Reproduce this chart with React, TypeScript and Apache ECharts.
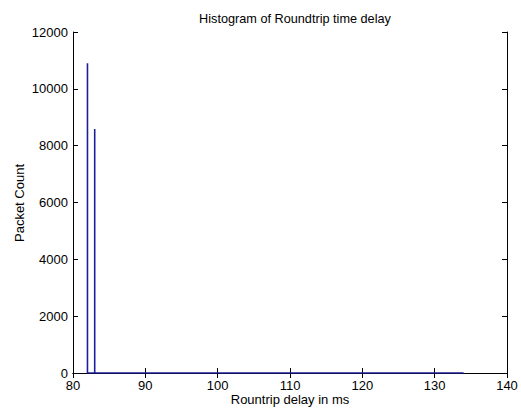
import React, { useEffect, useRef } from "react";
import * as echarts from "echarts";

const xTicks = [80, 90, 100, 110, 120, 130, 140];
const yTicks = [0, 2000, 4000, 6000, 8000, 10000, 12000];
const spikeDelays = [82, 83];
const spikeCounts = [10900, 8590];
const delayRange = [82, 134];

const title = "Histogram of Roundtrip time delay";
const xName = "Rountrip delay in ms";
const yName = "Packet Count";

export default function App() {
  const ref = useRef<HTMLDivElement>(null);
  useEffect(() => {
    if (!ref.current) return;
    const chart = echarts.init(ref.current, undefined, { renderer: "svg" });
    const lineData: [number, number][] = [[delayRange[0], 0]];
    spikeDelays.forEach((d, i) => {
      lineData.push([d, 0], [d, spikeCounts[i]], [d, 0]);
    });
    lineData.push([delayRange[1], 0]);
    const font = "Liberation Sans, Arial, sans-serif";
    const fs = 13;
    const axisLine = { show: true, lineStyle: { color: "#000", width: 1 } };
    const tick = { show: true, inside: true, length: 5, lineStyle: { color: "#000" } };
    const plain = (v: number) => String(v);
    chart.setOption({
      animation: false,
      backgroundColor: "#fff",
      title: {
        text: title,
        left: 290,
        textAlign: "center",
        top: 7,
        textStyle: { fontFamily: font, fontSize: 12.7, fontWeight: "normal", color: "#000" },
      },
      grid: { left: 73, right: 14, top: 32, bottom: 35 },
      xAxis: [
        {
          type: "value",
          min: xTicks[0],
          max: xTicks[xTicks.length - 1],
          interval: 10,
          position: "bottom",
          axisLine,
          axisTick: tick,
          splitLine: { show: false },
          axisLabel: { color: "#000", fontFamily: font, fontSize: fs, margin: 6, formatter: plain },
        },
        {
          type: "value",
          min: xTicks[0],
          max: xTicks[xTicks.length - 1],
          interval: 10,
          position: "top",
          axisLine,
          axisTick: tick,
          splitLine: { show: false },
          axisLabel: { show: false },
        },
      ],
      yAxis: [
        {
          type: "value",
          min: yTicks[0],
          max: yTicks[yTicks.length - 1],
          interval: 2000,
          position: "left",
          axisLine,
          axisTick: tick,
          splitLine: { show: false },
          axisLabel: { color: "#000", fontFamily: font, fontSize: fs, margin: 5, formatter: plain },
        },
        {
          type: "value",
          min: yTicks[0],
          max: yTicks[yTicks.length - 1],
          interval: 2000,
          position: "right",
          axisLine,
          axisTick: tick,
          splitLine: { show: false },
          axisLabel: { show: false },
        },
      ],
      graphic: [
        {
          type: "text",
          x: 290,
          y: 399,
          style: {
            text: xName,
            fill: "#000",
            font: `${fs}px ${font}`,
            align: "center",
            verticalAlign: "middle",
          },
        },
        {
          type: "text",
          x: 19,
          y: 203,
          rotation: Math.PI / 2,
          style: {
            text: yName,
            fill: "#000",
            font: `${fs}px ${font}`,
            align: "center",
            verticalAlign: "middle",
          },
        },
      ],
      series: [
        {
          type: "line",
          data: lineData,
          symbol: "none",
          lineStyle: { color: "#1e1e9a", width: 1.6 },
          xAxisIndex: 0,
          yAxisIndex: 0,
        },
      ],
    });
    return () => chart.dispose();
  }, []);
  return <div ref={ref} style={{ width: 521, height: 408, position: "absolute", left: 0, top: 0 }} />;
}
